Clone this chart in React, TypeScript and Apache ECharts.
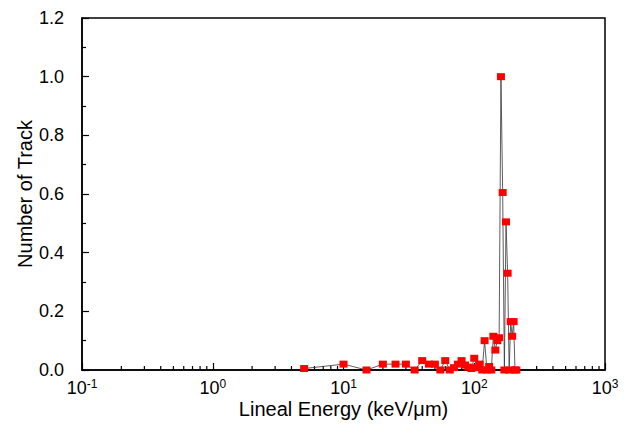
import React, { useEffect, useRef } from "react";
import * as echarts from "echarts";

// Lineal energy bins (keV/μm)
const energies = [
  5, 10, 15, 20, 25, 30, 35, 40, 45, 50, 55, 60, 65, 70, 75, 80, 85, 90, 95, 100,
  105, 110, 115, 120, 125, 130, 135, 140, 145, 150, 155, 160, 165, 170, 175, 180,
  185, 190, 195, 200, 205, 210,
];
// Normalised number of tracks
const tracks = [
  0.005, 0.02, 0, 0.02, 0.02, 0.02, 0, 0.032, 0.02, 0.02, 0, 0.032, 0, 0.008, 0.02,
  0.032, 0.017, 0.01, 0.005, 0.04, 0.008, 0.02, 0, 0.1, 0, 0.012, 0, 0.115, 0.068,
  0.1, 0.11, 1.0, 0.605, 0, 0.505, 0.33, 0, 0.165, 0.115, 0.165, 0, 0,
];
// Minor tick positions on the log axis
const minorTicks = [
  0.2, 0.3, 0.4, 0.5, 0.6, 0.7, 0.8, 0.9, 2, 3, 4, 5, 6, 7, 8, 9, 20, 30, 40, 50,
  60, 70, 80, 90, 200, 300, 400, 500, 600, 700, 800, 900,
];

const FONT = "'Liberation Sans', Arial, Helvetica, sans-serif";

export default function App() {
  const ref = useRef<HTMLDivElement>(null);
  useEffect(() => {
    if (!ref.current) return;
    const chart = echarts.init(ref.current, undefined, { renderer: "svg" });
    chart.setOption({
      animation: false,
      backgroundColor: "#fff",
      grid: {
        left: 82,
        right: 26,
        top: 18,
        bottom: 64,
        show: true,
        borderColor: "#000",
        borderWidth: 1.5,
      },
      xAxis: {
        type: "log",
        logBase: 10,
        min: 0.1,
        max: 1000,
        name: "Lineal Energy (keV/μm)",
        nameLocation: "middle",
        nameGap: 29,
        nameMoveOverlap: false,
        nameTextStyle: { fontFamily: FONT, fontSize: 20, color: "#000" },
        axisLine: { lineStyle: { color: "#000", width: 1.5 } },
        axisTick: { inside: true, length: 7, lineStyle: { color: "#000", width: 1.2 } },
        splitLine: { show: false },
        axisLabel: {
          margin: 8,
          formatter: (v: number) => {
            const e = Math.round(Math.log10(v));
            return `{b|10}{s|${e}}`;
          },
          rich: {
            b: { fontFamily: FONT, fontSize: 18, color: "#000", lineHeight: 20 },
            s: {
              fontFamily: FONT,
              fontSize: 12,
              color: "#000",
              lineHeight: 13,
              verticalAlign: "top",
            },
          },
        },
      },
      yAxis: {
        type: "value",
        min: 0,
        max: 1.2,
        interval: 0.2,
        name: "Number of Track",
        nameLocation: "middle",
        nameGap: 47,
        nameMoveOverlap: false,
        nameTextStyle: { fontFamily: FONT, fontSize: 20, color: "#000" },
        axisLine: { show: true, lineStyle: { color: "#000", width: 1.5 } },
        axisTick: { show: true, inside: true, length: 7, lineStyle: { color: "#000", width: 1.2 } },
        minorTick: { show: true, splitNumber: 2, length: 4, lineStyle: { color: "#000", width: 1.2 } },
        splitLine: { show: false },
        axisLabel: {
          margin: 18,
          fontFamily: FONT,
          fontSize: 18,
          color: "#000",
          formatter: (v: number) => v.toFixed(1),
        },
      },
      series: [
        {
          type: "custom",
          silent: true,
          z: 1,
          data: minorTicks.map((v) => [v, 0]),
          renderItem: (params: any, api: any) => {
            const p = api.coord([api.value(0), 0]);
            return {
              type: "line",
              shape: { x1: p[0], y1: p[1], x2: p[0], y2: p[1] - 4 },
              style: { stroke: "#000", lineWidth: 1.2 },
            };
          },
        },
        {
          type: "line",
          z: 3,
          data: energies.map((e, i) => [e, tracks[i]]),
          symbol: "rect",
          symbolSize: [8, 7],
          itemStyle: { color: "#ff0000" },
          lineStyle: { color: "#333", width: 0.8 },
          clip: false,
        },
      ],
    });
    return () => chart.dispose();
  }, []);
  return (
    <div
      ref={ref}
      style={{ position: "fixed", left: 0, top: 0, width: 631, height: 434 }}
    />
  );
}
